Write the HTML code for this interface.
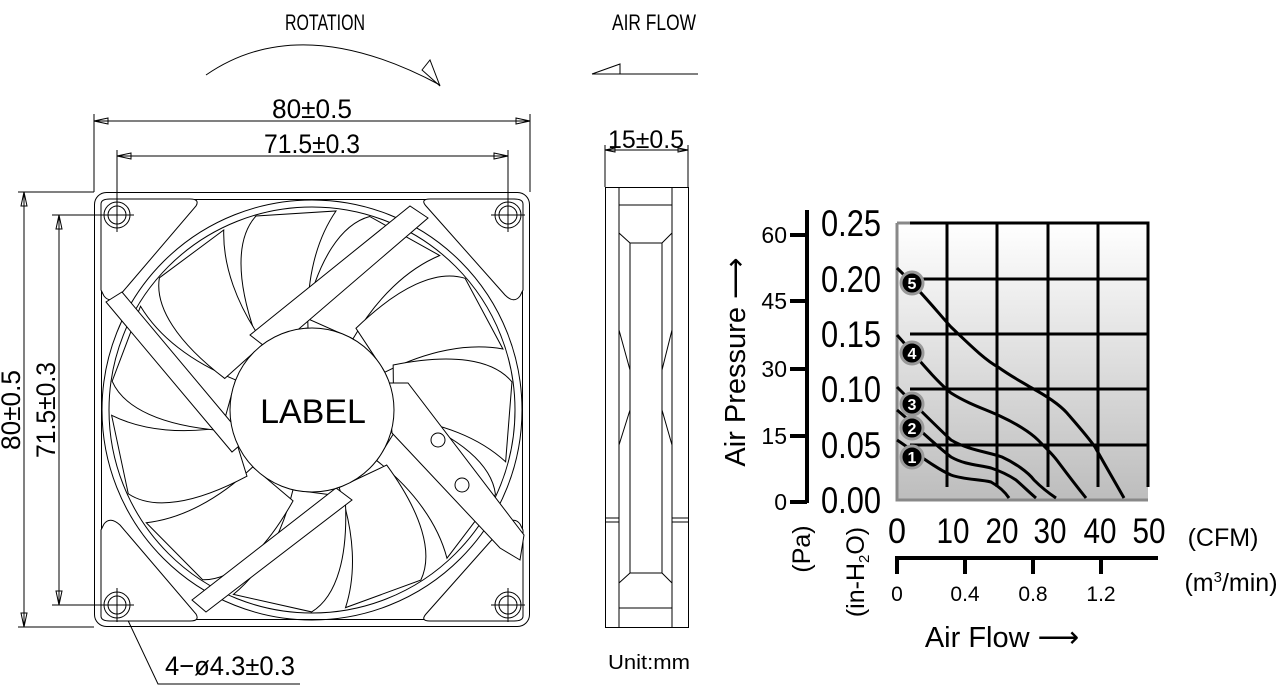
<!DOCTYPE html>
<html><head><meta charset="utf-8"><style>
html,body{margin:0;padding:0;background:#fff;}
svg{display:block}
text{font-family:"Liberation Sans",sans-serif;}
</style></head><body>
<svg width="1284" height="693" viewBox="0 0 1284 693" xmlns="http://www.w3.org/2000/svg">
<defs>
<linearGradient id="g" x1="0" y1="0" x2="0" y2="1"><stop offset="0" stop-color="#fff"/><stop offset="1" stop-color="#bdbdbd"/></linearGradient>
<path id="blade" d="M -56,-74 C -76,-130 -76,-172 -56,-194 L 24,-199 C 4,-170 -6,-130 -4,-82 Z" fill="#fff" stroke="#000" stroke-width="1"/>
</defs>

<!-- annotations -->
<text x="325" y="30" font-size="22" text-anchor="middle" textLength="80" lengthAdjust="spacingAndGlyphs">ROTATION</text>
<path d="M206,75 Q300,10 440,85" fill="none" stroke="#000" stroke-width="1"/>
<path d="M422,70 L430,60 L440,86 Z" fill="none" stroke="#000" stroke-width="1"/>
<text x="654" y="30" font-size="22" text-anchor="middle" textLength="84" lengthAdjust="spacingAndGlyphs">AIR FLOW</text>
<path d="M592,74 L698,74 M592,74 L620,64 L620,74" fill="none" stroke="#000" stroke-width="1"/>

<!-- dimensions -->
<g stroke="#000" stroke-width="1" fill="none">
<line x1="94" y1="114" x2="94" y2="192"/><line x1="530" y1="114" x2="530" y2="192"/>
<line x1="94" y1="121" x2="530" y2="121"/>
<path d="M94,121 l14,-3 v6 z M530,121 l-14,-3 v6 z"/>
<line x1="117" y1="150" x2="117" y2="215"/><line x1="508" y1="150" x2="508" y2="215"/>
<line x1="117" y1="156" x2="508" y2="156"/>
<path d="M117,156 l14,-3 v6 z M508,156 l-14,-3 v6 z"/>
<line x1="18" y1="192" x2="94" y2="192"/><line x1="18" y1="627" x2="94" y2="627"/>
<line x1="24" y1="192" x2="24" y2="627"/>
<path d="M24,192 l-3,14 h6 z M24,627 l-3,-14 h6 z"/>
<line x1="52" y1="215" x2="117" y2="215"/><line x1="52" y1="605" x2="117" y2="605"/>
<line x1="59" y1="215" x2="59" y2="605"/>
<path d="M59,215 l-3,14 h6 z M59,605 l-3,-14 h6 z"/>
<line x1="605" y1="145" x2="605" y2="187"/><line x1="688" y1="145" x2="688" y2="187"/>
<line x1="605" y1="150" x2="688" y2="150"/>
<path d="M605,150 l10,-2 v4 z M688,150 l-10,-2 v4 z"/>
<path d="M124,612 L158,684 L300,684"/>
</g>
<text x="312" y="118" font-size="27" text-anchor="middle" textLength="80" lengthAdjust="spacingAndGlyphs">80±0.5</text>
<text x="312" y="153" font-size="27" text-anchor="middle" textLength="96" lengthAdjust="spacingAndGlyphs">71.5±0.3</text>
<text x="646" y="148" font-size="25" text-anchor="middle" textLength="76" lengthAdjust="spacingAndGlyphs">15±0.5</text>
<text transform="translate(20,410) rotate(-90)" font-size="27" text-anchor="middle" textLength="80" lengthAdjust="spacingAndGlyphs">80±0.5</text>
<text transform="translate(55,410) rotate(-90)" font-size="27" text-anchor="middle" textLength="96" lengthAdjust="spacingAndGlyphs">71.5±0.3</text>
<text x="165" y="675" font-size="27" textLength="130" lengthAdjust="spacingAndGlyphs">4−ø4.3±0.3</text>
<text x="649" y="669" font-size="20" text-anchor="middle" textLength="82" lengthAdjust="spacingAndGlyphs">Unit:mm</text>

<!-- fan front -->
<g stroke="#000" stroke-width="1" fill="none">
<rect x="94.5" y="192.5" width="435" height="434" rx="12"/>
<rect x="101.5" y="199.5" width="421" height="420" rx="8"/>
<circle cx="312" cy="410" r="210"/>
<circle cx="312" cy="410" r="203"/>
</g>
<g transform="translate(312,410)">
<use href="#blade" transform="rotate(0)"/>
<use href="#blade" transform="rotate(32.7)"/>
<use href="#blade" transform="rotate(65.4)"/>
<use href="#blade" transform="rotate(98.1)"/>
<use href="#blade" transform="rotate(130.8)"/>
<use href="#blade" transform="rotate(163.5)"/>
<use href="#blade" transform="rotate(196.2)"/>
<use href="#blade" transform="rotate(228.9)"/>
<use href="#blade" transform="rotate(261.6)"/>
<use href="#blade" transform="rotate(294.3)"/>
<use href="#blade" transform="rotate(327)"/>
</g>
<g stroke="#000" stroke-width="1" fill="#fff">
<path d="M101,204 Q101,199 110,199 L190,199 Q200,199 196,206 L120,295 Q110,304 104,296 L101,290 Z"/>
<path d="M523,204 Q523,199 514,199 L430,199 Q420,199 426,206 L505,295 Q514,304 520,296 L523,290 Z"/>
<path d="M101,616 Q101,621 110,621 L190,621 Q200,621 196,614 L120,525 Q110,516 104,524 L101,530 Z"/>
<path d="M523,616 Q523,621 514,621 L430,621 Q420,621 426,614 L505,525 Q514,516 520,524 L523,530 Z"/>
<polygon points="250,335 410,206 428,218 272,352"/>
<polygon points="106,302 122,292 246,440 232,452"/>
<polygon points="206,612 192,600 336,488 352,500"/>
<polygon points="388,383 408,383 524,535 520,560 500,548 392,433"/>
<circle cx="312" cy="410" r="82"/>
</g>
<g stroke="#000" stroke-width="1" fill="none">
<circle cx="117" cy="215" r="13"/><circle cx="117" cy="215" r="9"/>
<circle cx="508" cy="215" r="13"/><circle cx="508" cy="215" r="9"/>
<circle cx="117" cy="605" r="13"/><circle cx="117" cy="605" r="9"/>
<circle cx="508" cy="605" r="13"/><circle cx="508" cy="605" r="9"/>
<path d="M100,215 h34 M117,198 v34 M491,215 h34 M508,198 v34 M100,605 h34 M117,588 v34 M491,605 h34 M508,588 v34"/>
<circle cx="438" cy="440" r="7"/><circle cx="462" cy="485" r="7"/>
</g>
<text x="313" y="423" font-size="34" text-anchor="middle">LABEL</text>

<!-- side view -->
<g stroke="#000" stroke-width="1" fill="none">
<rect x="605.5" y="187.5" width="83" height="440"/>
<line x1="619" y1="187" x2="619" y2="627"/><line x1="672" y1="187" x2="672" y2="627"/>
<line x1="619" y1="205" x2="672" y2="205"/><line x1="619" y1="608" x2="672" y2="608"/>
<rect x="630" y="243" width="32" height="330"/>
<path d="M619,233 L630,243 M672,233 L662,243 M619,583 L630,573 M672,583 L662,573"/>
<path d="M619,330 L630,370 M672,330 L662,370 M619,445 L630,410 M672,445 L662,410"/>
<path d="M605,518 h14 M605,522 h14 M672,518 h16 M672,522 h16"/>
</g>

<!-- chart -->
<rect x="897" y="223" width="251" height="277" fill="url(#g)"/>
<path d="M897,223 V500 H1148" fill="none" stroke="#888" stroke-width="3"/>
<path d="M897,223 H910" stroke="#888" stroke-width="3"/>
<g stroke="#000" stroke-width="3" fill="none">
<path d="M910,223 H1148 V487"/>
<path d="M947,223 V487 M997,223 V487 M1048,223 V487 M1098,223 V487"/>
<path d="M910,279 H1148 M910,334 H1148 M910,389 H1148 M910,445 H1148"/>
<path d="M807,210 V503 M790,235 H807 M790,301 H807 M790,369 H807 M790,436 H807 M790,502 H807" stroke-width="4"/>
<path d="M895,558 H1158 M897,558 V574 M965,558 V574 M1033,558 V574 M1101,558 V574" stroke-width="4"/>
</g>
<g stroke="#000" stroke-width="3" fill="none">
<path d="M897,268 C920,290 940,315 951,327 C970,345 985,360 998,367 C1012,377 1022,382 1030,387 C1045,395 1058,403 1067,413 C1080,428 1088,437 1095,447 C1105,465 1115,482 1124,498"/>
<path d="M897,335 C915,355 935,380 951,393 C970,405 988,410 1002,417 C1015,423 1030,432 1038,440 C1048,450 1054,456 1059,463 C1068,475 1078,488 1086,498"/>
<path d="M897,387 C915,405 935,425 951,440 C968,450 988,452 1002,457 C1015,463 1028,472 1034,480 C1042,488 1050,494 1056,498"/>
<path d="M897,410 C915,425 935,445 951,457 C965,465 980,465 991,468 C1003,472 1010,476 1016,480 C1024,487 1030,493 1036,498"/>
<path d="M897,440 C915,452 935,468 951,475 C965,480 980,479 991,482 C1000,487 1005,492 1009,498"/>
</g>
<g fill="#000" stroke="#999" stroke-width="3">
<circle cx="912" cy="283" r="11"/><circle cx="912" cy="353" r="11"/><circle cx="912" cy="404" r="11"/><circle cx="912" cy="428" r="11"/><circle cx="912" cy="457" r="11"/>
</g>
<g fill="#fff" font-size="16" font-weight="bold" text-anchor="middle">
<text x="912" y="289">5</text><text x="912" y="359">4</text><text x="912" y="410">3</text><text x="912" y="434">2</text><text x="912" y="463">1</text>
</g>
<g font-size="37" text-anchor="end">
<text x="881" y="236" textLength="60" lengthAdjust="spacingAndGlyphs">0.25</text>
<text x="881" y="292" textLength="60" lengthAdjust="spacingAndGlyphs">0.20</text>
<text x="881" y="347" textLength="60" lengthAdjust="spacingAndGlyphs">0.15</text>
<text x="881" y="402" textLength="60" lengthAdjust="spacingAndGlyphs">0.10</text>
<text x="881" y="458" textLength="60" lengthAdjust="spacingAndGlyphs">0.05</text>
<text x="881" y="513" textLength="60" lengthAdjust="spacingAndGlyphs">0.00</text>
</g>
<g font-size="23" text-anchor="end">
<text x="787" y="243">60</text><text x="787" y="309">45</text><text x="787" y="377">30</text><text x="787" y="444">15</text><text x="787" y="510">0</text>
</g>
<g font-size="35" text-anchor="middle">
<text x="897" y="543" textLength="18" lengthAdjust="spacingAndGlyphs">0</text>
<text x="953" y="543" textLength="33" lengthAdjust="spacingAndGlyphs">10</text>
<text x="1002" y="543" textLength="33" lengthAdjust="spacingAndGlyphs">20</text>
<text x="1050" y="543" textLength="33" lengthAdjust="spacingAndGlyphs">30</text>
<text x="1100" y="543" textLength="33" lengthAdjust="spacingAndGlyphs">40</text>
<text x="1149" y="543" textLength="33" lengthAdjust="spacingAndGlyphs">50</text>
</g>
<g font-size="21" text-anchor="middle">
<text x="897" y="601">0</text><text x="965" y="601">0.4</text><text x="1033" y="601">0.8</text><text x="1101" y="601">1.2</text>
</g>
<text x="1223" y="546" font-size="25" text-anchor="middle">(CFM)</text>
<text x="1231" y="591" font-size="25" text-anchor="middle">(m<tspan font-size="15" dy="-9">3</tspan><tspan dy="9">/min)</tspan></text>
<text x="1002" y="647" font-size="29" text-anchor="middle">Air Flow ⟶</text>
<text transform="translate(745,362) rotate(-90)" font-size="29" text-anchor="middle">Air Pressure ⟶</text>
<text transform="translate(810,549) rotate(-90)" font-size="25" text-anchor="middle">(Pa)</text>
<text transform="translate(864,572) rotate(-90)" font-size="25" text-anchor="middle">(in-H<tspan font-size="15" dy="5">2</tspan><tspan dy="-5">O)</tspan></text>
</svg>
</body></html>
